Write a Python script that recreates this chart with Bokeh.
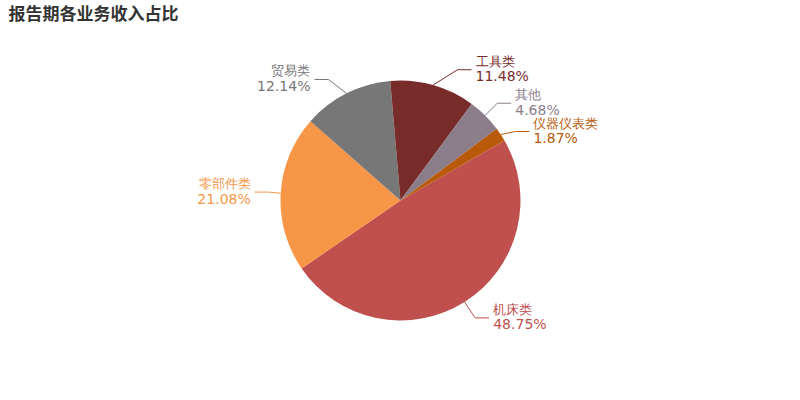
import math
from bokeh.plotting import figure
from bokeh.models import Range1d, ColumnDataSource
from bokeh.core.properties import value
from bokeh.embed import file_html
from bokeh.resources import INLINE

# ---- data ----
title_text = "报告期各业务收入占比"
categories = ["机床类", "零部件类", "贸易类", "工具类", "其他", "仪器仪表类"]
shares = [48.75, 21.08, 12.14, 11.48, 4.68, 1.87]
colors = ["#c0504d", "#f79646", "#777777", "#772c2a", "#8c7d8b", "#b85a0a"]

# ---- layout / style ----
W, H = 800, 400
cx, cy = 400, 200          # pie centre (screen px, y up)
R = 120
start_deg = 30.0           # math angle where the first slice starts, going clockwise
L1, L2, GAP = 20, 14, 4
# label-layout nudges of the leader-line bend (screen px: right, down)
bend_nudge = [(0, -1), (8, 0), (-9, 4), (19, 4), (-2, 2), (-2, 8)]

p = figure(width=W, height=H, output_backend="svg", toolbar_location=None,
           x_range=Range1d(0, W), y_range=Range1d(0, H), min_border=0)
p.axis.visible = False
p.grid.visible = False
p.outline_line_color = None
p.background_fill_color = "white"

total = sum(shares)
lo, hi, mids = [], [], []
cum = 0.0
for s in shares:
    h = math.radians(start_deg - cum / total * 360.0)
    l = math.radians(start_deg - (cum + s) / total * 360.0)
    hi.append(h)
    lo.append(l)
    mids.append((h + l) / 2)
    cum += s

src = ColumnDataSource(dict(x=[cx] * len(shares), y=[cy] * len(shares),
                            start=lo, end=hi, color=colors))
p.wedge(x="x", y="y", radius=R, start_angle="start", end_angle="end",
        fill_color="color", line_color=None, source=src)

xs, ys, tx, tny, tvy, align, names, vals, cols = [], [], [], [], [], [], [], [], []
for i, m in enumerate(mids):
    ex, ey = cx + R * math.cos(m), cy + R * math.sin(m)
    bx = cx + (R + L1) * math.cos(m) + bend_nudge[i][0]
    by = cy + (R + L1) * math.sin(m) - bend_nudge[i][1]
    sgn = 1 if math.cos(m) >= 0 else -1
    endx = bx + sgn * L2
    xs.append([ex, bx, endx])
    ys.append([ey, by, by])
    tx.append(endx + sgn * GAP)
    tny.append(by + 8.5)
    tvy.append(by - 6.5)
    align.append("left" if sgn > 0 else "right")
    names.append(categories[i])
    vals.append(f"{shares[i]:.2f}%")
    cols.append(colors[i])

lsrc = ColumnDataSource(dict(xs=xs, ys=ys, color=cols))
p.multi_line(xs="xs", ys="ys", line_color="color", line_width=1, source=lsrc)

tsrc = ColumnDataSource(dict(x=tx, yn=tny, yv=tvy, align=align,
                             name=names, val=vals, color=cols))
p.text(x="x", y="yn", text="name", text_align="align", text_baseline="middle",
       text_color="color", text_font=value("DejaVu Sans"), text_font_size="13px",
       source=tsrc)
p.text(x="x", y="yv", text="val", text_align="align", text_baseline="middle",
       text_color="color", text_font=value("DejaVu Sans"), text_font_size="14px",
       source=tsrc)

p.text(x=[8], y=[H - 12], text=[title_text], text_align="left", text_baseline="middle",
       text_color="#333333", text_font=value("Noto Sans CJK SC"),
       text_font_size="17px", text_font_style="bold")

open("out.html", "w").write(file_html(p, INLINE))
